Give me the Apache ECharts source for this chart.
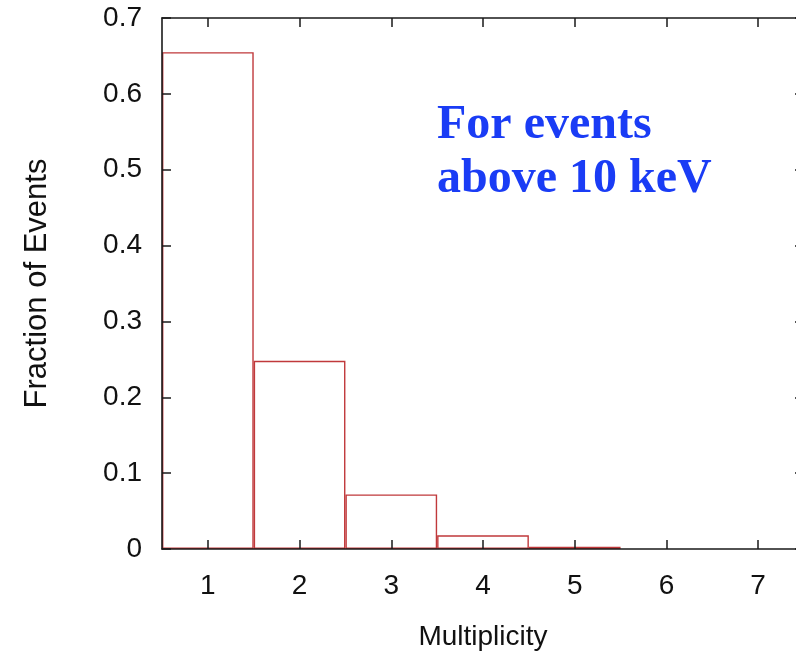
<!DOCTYPE html>
<html>
<head>
<meta charset="utf-8">
<script src="https://cdn.jsdelivr.net/npm/echarts@6/dist/echarts.min.js"></script>
<style>
html,body{margin:0;padding:0;background:#fff;}
#chart{width:796px;height:656px;}
</style>
</head>
<body>
<div id="chart"></div>
<script>
const categories = ['1', '2', '3', '4', '5', '6', '7'];
const fractions = [0.655, 0.248, 0.072, 0.018, 0.003, 0, 0];
const yTicks = { min: 0, max: 0.7, interval: 0.1 };
const xTitle = 'Multiplicity';
const yTitle = 'Fraction of Events';
const noteLines = ['For events', 'above 10 keV'];

const chart = echarts.init(document.getElementById('chart'), null, { renderer: 'canvas' });
const font = 'Liberation Sans, Arial, Helvetica, sans-serif';
const axisCol = '#1a1a1a';
const red = '#c0393b';

const baseX = {
  type: 'category',
  data: categories,
  boundaryGap: true,
  axisLine: { show: true, onZero: false, lineStyle: { color: axisCol, width: 1.6 } },
  axisTick: { show: true, inside: true, alignWithLabel: true, length: 9, lineStyle: { color: axisCol, width: 1.5 } },
  splitLine: { show: false },
  z: 5
};
const baseY = {
  type: 'value',
  min: yTicks.min, max: yTicks.max, interval: yTicks.interval,
  axisLine: { show: true, onZero: false, lineStyle: { color: axisCol, width: 1.6 } },
  axisTick: { show: true, inside: true, length: 9, lineStyle: { color: axisCol, width: 1.5 } },
  splitLine: { show: false },
  z: 5
};

chart.setOption({
  animation: false,
  backgroundColor: '#fff',
  grid: { left: 162, top: 18, width: 642, height: 531, containLabel: false, outerBoundsMode: 'none' },
  xAxis: [
    Object.assign({}, baseX, {
      position: 'bottom',
      axisLabel: { show: true, color: '#111', fontFamily: font, fontSize: 28, margin: 23 },
      name: xTitle, nameLocation: 'middle', nameGap: 74,
      nameTextStyle: { color: '#111', fontFamily: font, fontSize: 28 }
    }),
    Object.assign({}, baseX, { position: 'top', axisLabel: { show: false } })
  ],
  yAxis: [
    Object.assign({}, baseY, {
      position: 'left',
      axisLabel: { show: true, color: '#111', fontFamily: font, fontSize: 28, margin: 20 },
      name: yTitle, nameLocation: 'middle', nameGap: 109, nameRotate: 90,
      nameTextStyle: { color: '#111', fontFamily: font, fontSize: 31 }
    }),
    Object.assign({}, baseY, { position: 'right', axisLabel: { show: false } })
  ],
  series: [{
    type: 'bar',
    xAxisIndex: 0, yAxisIndex: 0,
    data: fractions.map(v => (v === 0 ? '-' : v)),
    barCategoryGap: '0%',
    barGap: '0%',
    itemStyle: { color: 'rgba(255,255,255,0)', borderColor: red, borderWidth: 1.4 },
    z: 2
  }],
  graphic: [{
    type: 'text',
    left: 437, top: 99,
    style: {
      text: noteLines.join('\n'),
      font: 'bold 48px "Liberation Serif", "Times New Roman", serif',
      fill: '#1a3cf5',
      lineHeight: 54
    },
    z: 10
  }]
});
</script>
</body>
</html>
